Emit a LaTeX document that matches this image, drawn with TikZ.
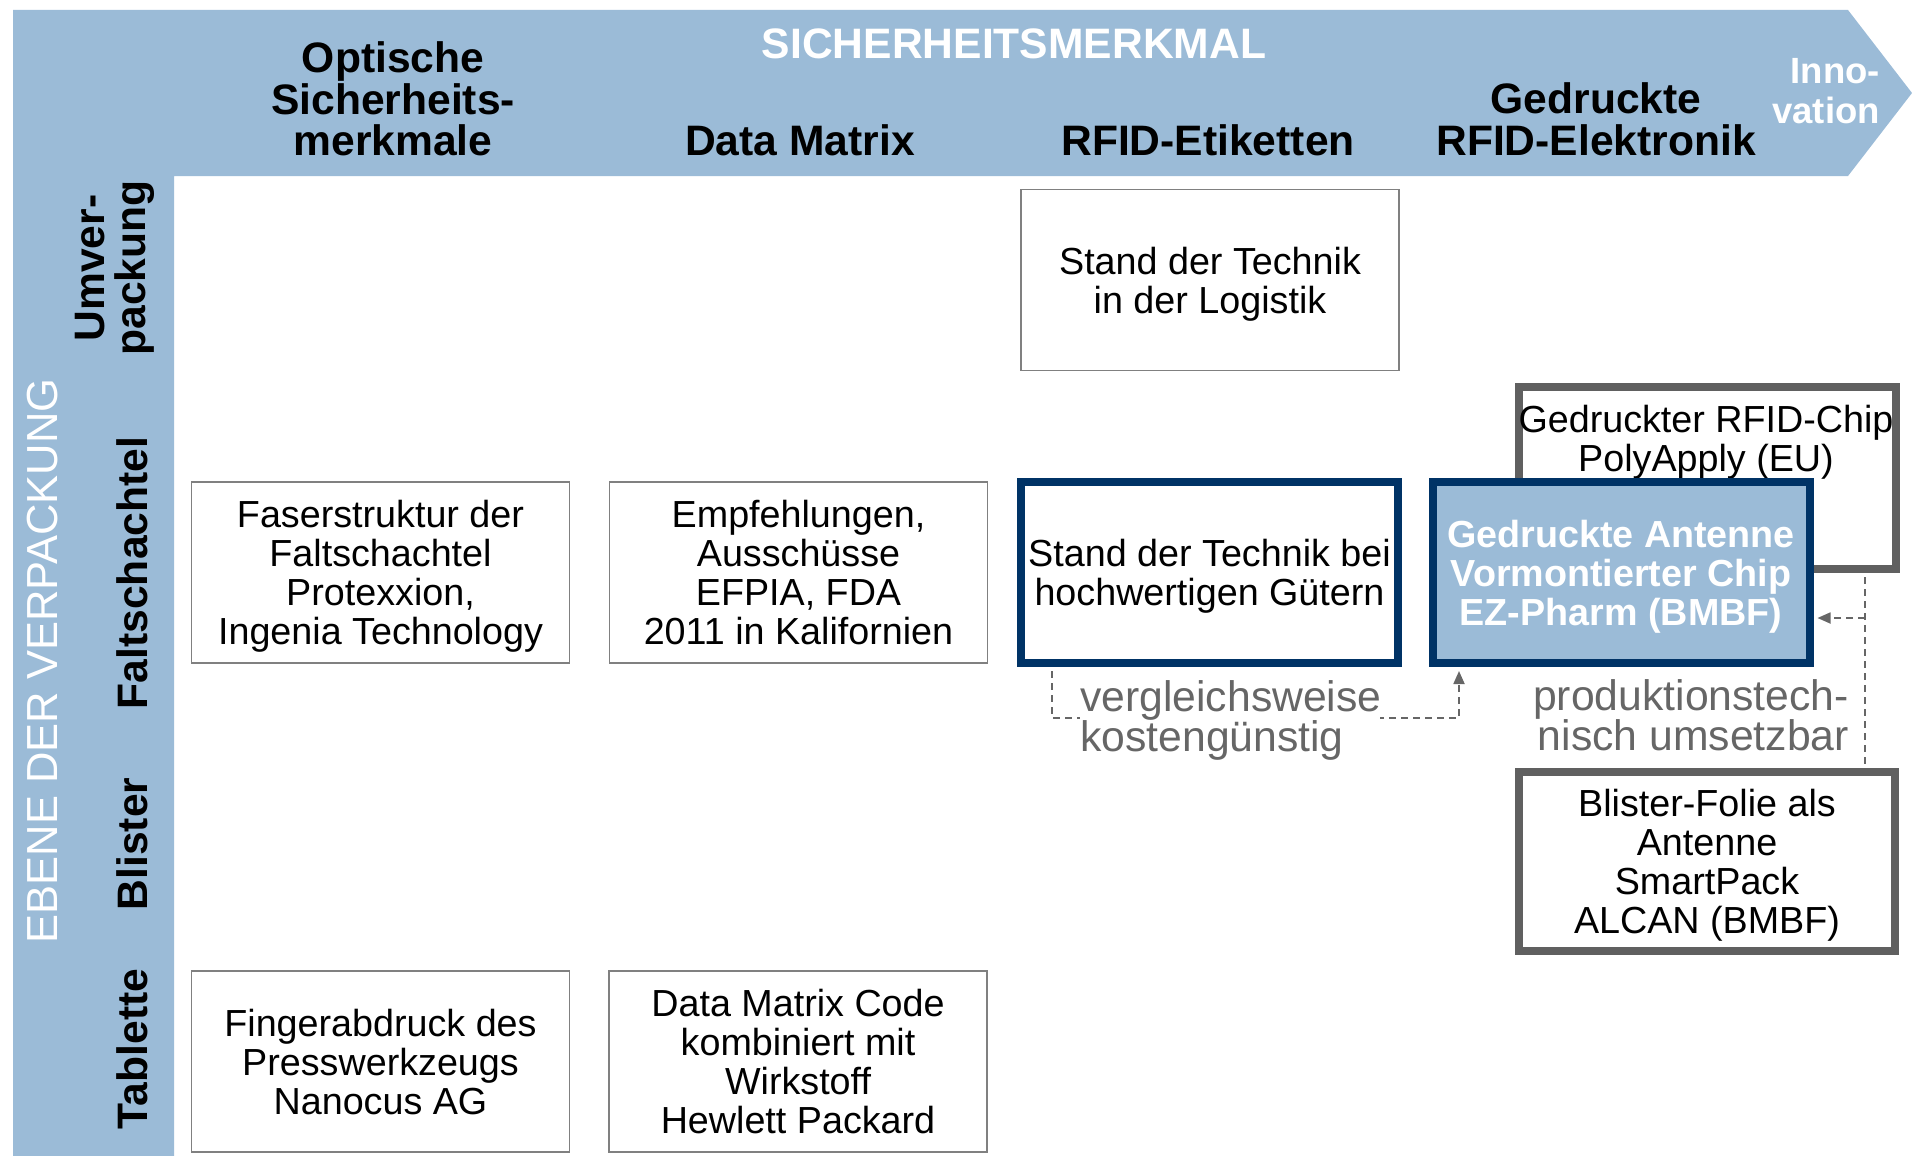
\documentclass[tikz,border=0pt]{standalone}
\usepackage{fontspec}
\setmainfont{Liberation Sans}
\usetikzlibrary{arrows.meta}
\definecolor{bandblue}{RGB}{155,187,215}
\definecolor{navy}{RGB}{0,51,102}
\definecolor{boxgray}{RGB}{128,128,128}
\definecolor{framegray}{RGB}{96,96,96}
\definecolor{labelgray}{RGB}{102,102,102}

\begin{document}
\begin{tikzpicture}[x=1pt,y=-1pt,
  hdr/.style={font=\fontsize{42.6}{41.5}\selectfont\bfseries, align=center, inner sep=0pt},
  rowlbl/.style={font=\fontsize{42.6}{41.5}\selectfont\bfseries, align=center, rotate=90, inner sep=0pt},
  boxtext/.style={font=\fontsize{37.7}{39}\selectfont, align=center, text depth=0pt},
  thinbox/.style={boxtext, draw=boxgray, line width=1.5pt, minimum width=378pt, minimum height=181pt, inner sep=0pt},
  navybox/.style={boxtext, draw=navy, line width=8pt, minimum width=377pt, minimum height=181pt, inner sep=0pt},
  graybox/.style={boxtext, draw=framegray, line width=8pt, minimum width=377pt, minimum height=181pt, inner sep=0pt, fill=white},
  notetext/.style={font=\fontsize{42.7}{40}\selectfont, text=labelgray, inner sep=0pt},
  dconn/.style={draw=labelgray, line width=1.8pt, dash pattern=on 7pt off 5pt},
  arrowtip/.style={-{Triangle[length=13pt,width=11pt]}}
]
\useasboundingbox (0,0) rectangle (1912,1156);

% header arrow and side column
\fill[bandblue] (13,10) -- (1848,10) -- (1912,93) -- (1848,176) -- (174,176)
  -- (174,1156) -- (13,1156) -- cycle;

% column headings
\node[hdr, text=white] (merkmal) at (1014,44) {SICHERHEITSMERKMAL};
\node[hdr] (optisch) at (393,99) {Optische\\Sicherheits-\\merkmale};
\node[hdr] (dm) at (800,140) {Data Matrix};
\node[hdr] (rfid) at (1208,140) {RFID-Etiketten};
\node[hdr] (druck) at (1596,119.5) {Gedruckte\\RFID-Elektronik};
\node[font=\fontsize{36.5}{40}\selectfont\bfseries, text=white, align=right,
      anchor=east, inner sep=0pt] (innov) at (1880,91.5) {Inno-\\vation};

% row headings
\node[font=\fontsize{43.5}{41.5}\selectfont, text=white, rotate=90, inner sep=0pt]
  (ebene) at (43,661) {EBENE DER VERPACKUNG};
\node[rowlbl] (umver) at (115,268) {Umver-\\packung};
\node[rowlbl] (falt) at (132,573) {Faltschachtel};
\node[rowlbl] (blist) at (132,844) {Blister};
\node[rowlbl] (tabl) at (132,1049) {Tablette};

% matrix entries
\node[thinbox] (logistik) at (1210,280) {Stand der Technik\\in der Logistik};
\node[thinbox] (faser) at (380.5,572.5) {Faserstruktur der\\Faltschachtel\\Protexxion,\\Ingenia Technology};
\node[thinbox] (empf) at (798.5,572.5) {Empfehlungen,\\Ausschüsse\\EFPIA, FDA\\2011 in Kalifornien};
\node[thinbox] (finger) at (380.5,1061.5) {Fingerabdruck des\\Presswerkzeugs\\Nanocus AG};
\node[thinbox] (dmcode) at (798,1061.5) {Data Matrix Code\\kombiniert mit\\Wirkstoff\\Hewlett Packard};

\node[navybox, fill=white] (hw) at (1209.5,572.5) {Stand der Technik bei\\hochwertigen Gütern};

\node[graybox, minimum height=182pt] (chip) at (1707.5,478) {};
\node[boxtext, inner sep=0pt] (chiptxt) at (1706,438) {Gedruckter RFID-Chip\\PolyApply (EU)};

\node[navybox, fill=bandblue, text=white, font=\fontsize{37.7}{39}\selectfont\bfseries]
  (ant) at (1621,572.5) {Gedruckte Antenne\\Vormontierter Chip\\EZ-Pharm (BMBF)};

\node[graybox, minimum width=376pt, minimum height=179pt] (blister) at (1707,861.5)
  {Blister-Folie als\\Antenne\\SmartPack\\ALCAN (BMBF)};

% dashed relations
\coordinate (v1) at (1052,718);
\coordinate (v2) at (1459,718);
\draw[dconn, arrowtip, shorten <=4pt, shorten >=4pt]
  (hw.south -| v1) -- (v1) -- (v2) -- (ant.south -| v2);

\coordinate (j) at (1865,618);
\draw[dconn, shorten <=4pt, shorten >=4pt] (chip.south -| j) -- (blister.north -| j);
\draw[dconn, arrowtip, shorten >=4pt] (j) -- (ant.east |- j);

% relation labels
\node[notetext, fill=white, text width=300pt, align=left, anchor=west, inner ysep=2pt]
  (vgl) at (1080,720) {vergleichsweise\\kostengünstig};
\node[notetext, align=right, anchor=east] (prod) at (1849,715) {produktionstech-\\nisch umsetzbar};
\end{tikzpicture}
\end{document}
